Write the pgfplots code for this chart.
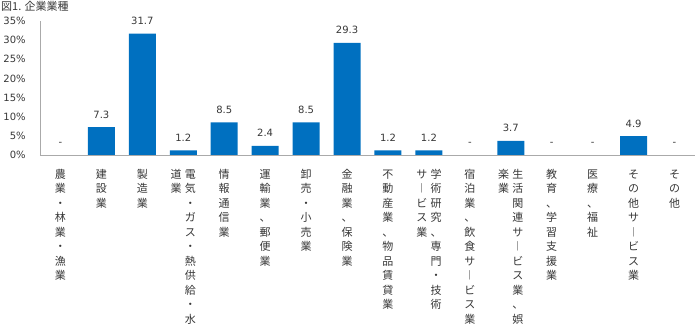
\documentclass[border=0pt]{standalone}
\usepackage{pgfplots}
\pgfplotsset{compat=1.18}
\usepackage{fontspec}
\setmainfont{Noto Sans CJK JP}
\newfontfamily\numfont{DejaVu Sans}
\definecolor{barblue}{RGB}{0,112,192}
\definecolor{axgray}{RGB}{170,170,170}
\definecolor{txt}{RGB}{55,55,55}
\newcommand\vc[1]{\begin{tabular}[t]{@{}c@{}}#1\end{tabular}}
\newcommand\cg{\hspace{3.3pt}}
\begin{document}
\begin{tikzpicture}
\begin{axis}[
  at={(0,0)}, anchor=south west,
  scale only axis, width=655pt, height=134pt,
  xmin=-0.5, xmax=15.5, ymin=0, ymax=35,
  axis lines=left,
  axis line style={-, draw=axgray, line width=0.6pt},
  ytick={0,5,...,35},
  yticklabels={0\%,5\%,10\%,15\%,20\%,25\%,30\%,35\%},
  ytick style={draw=none},
  yticklabel style={font=\numfont\fontsize{10}{12}\selectfont, text=txt, inner sep=0pt, anchor=east, xshift=-12pt},
  xtick={0,...,15},
  xtick style={draw=none},
  xticklabels={
    {\vc{農\\業\\・\\林\\業\\・\\漁\\業}},
    {\vc{建\\設\\業}},
    {\vc{製\\造\\業}},
    {\vc{道\\業}\cg\vc{電\\気\\・\\ガ\\ス\\・\\熱\\供\\給\\・\\水}},
    {\vc{情\\報\\通\\信\\業}},
    {\vc{運\\輸\\業\\、\\郵\\便\\業}},
    {\vc{卸\\売\\・\\小\\売\\業}},
    {\vc{金\\融\\業\\、\\保\\険\\業}},
    {\vc{不\\動\\産\\業\\、\\物\\品\\賃\\貸\\業}},
    {\vc{サ\\︱\\ビ\\ス\\業}\cg\vc{学\\術\\研\\究\\、\\専\\門\\・\\技\\術}},
    {\vc{宿\\泊\\業\\、\\飲\\食\\サ\\︱\\ビ\\ス\\業}},
    {\vc{楽\\業}\cg\vc{生\\活\\関\\連\\サ\\︱\\ビ\\ス\\業\\、\\娯}},
    {\vc{教\\育\\、\\学\\習\\支\\援\\業}},
    {\vc{医\\療\\、\\福\\祉}},
    {\vc{そ\\の\\他\\サ\\︱\\ビ\\ス\\業}},
    {\vc{そ\\の\\他}}
  },
  xticklabel style={font=\fontsize{11}{14.5}\selectfont, text=txt, inner sep=0pt, anchor=north, yshift=-11pt},
  extra x ticks={-0.5,0.5,...,15.5},
  extra x tick labels={},
  extra x tick style={tick style={draw=axgray, line width=0.6pt}, major tick length=4pt, tick align=outside},
  clip=false,
]
\addplot[ybar, bar width=27pt, bar shift=0pt, fill=barblue, draw=none,
  point meta=explicit symbolic, nodes near coords,
  nodes near coords style={font=\numfont\fontsize{10}{12}\selectfont, text=txt, anchor=base, inner sep=0pt, yshift=9pt}]
  coordinates {(1,7.3) [7.3] (2,31.7) [31.7] (3,1.2) [1.2] (4,8.5) [8.5] (5,2.4) [2.4]
    (6,8.5) [8.5] (7,29.3) [29.3] (8,1.2) [1.2] (9,1.2) [1.2] (11,3.7) [3.7] (14,4.9) [4.9]};
\addplot[draw=none, mark=none, only marks,
  point meta=explicit symbolic, nodes near coords,
  nodes near coords style={font=\numfont\fontsize{10}{12}\selectfont, text=txt, anchor=base, inner sep=0pt, yshift=9pt}]
  coordinates {(0,0) [-] (10,0) [-] (12,0) [-] (13,0) [-] (15,0) [-]};
\end{axis}
\node[anchor=north west, inner sep=0pt, font=\fontsize{11}{13}\selectfont, text=txt] at (-39pt,153.5pt) {図1. 企業業種};
\pgfresetboundingbox
\path[use as bounding box] (-40pt,-173pt) rectangle (658pt,155pt);
\end{tikzpicture}
\end{document}
